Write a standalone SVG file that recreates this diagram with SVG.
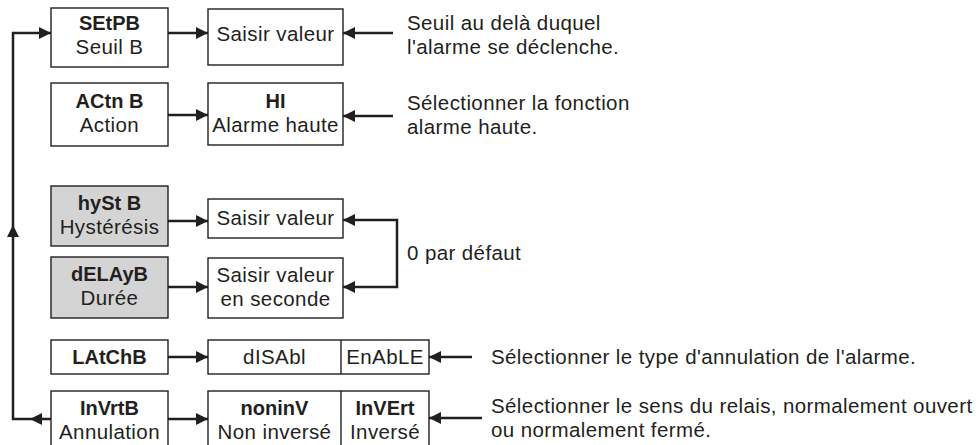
<svg xmlns="http://www.w3.org/2000/svg" width="980" height="445" viewBox="0 0 980 445">
<defs>
<style>
.box{fill:#fff;stroke:#231f20;stroke-width:1.4}
.gray{fill:#d4d4d4}
.t{font-family:"Liberation Sans",Arial,Helvetica,sans-serif;font-size:20.5px;fill:#231f20;letter-spacing:0.4px}
.b{font-weight:bold;font-size:20px;letter-spacing:0}
.c{text-anchor:middle}
.ln{fill:none;stroke:#231f20;stroke-width:2.5}
.hd{fill:#231f20}
</style>
<marker id="ah" viewBox="0 0 12 12" refX="12" refY="6" markerWidth="12" markerHeight="12" markerUnits="userSpaceOnUse" orient="auto-start-reverse"><path d="M0,0L12,6L0,12z" fill="#231f20"/></marker>
</defs>
<rect width="980" height="445" fill="#fff"/>

<g id="setpb"><rect class="box" x="51" y="8" width="117" height="59"/><text class="t b c" x="109.5" y="30">SEtPB</text><text class="t c" x="109.5" y="54">Seuil B</text></g>
<g id="setpb-val"><rect class="box" x="208" y="9" width="135" height="56"/><text class="t c" x="275.5" y="41">Saisir valeur</text></g>

<g id="actn"><rect class="box" x="51" y="83" width="117" height="63"/><text class="t b c" x="109.5" y="108">ACtn B</text><text class="t c" x="109.5" y="132">Action</text></g>
<g id="actn-val"><rect class="box" x="208" y="83" width="135" height="62"/><text class="t b c" x="275.5" y="108">HI</text><text class="t c" x="275.5" y="132">Alarme haute</text></g>

<g id="hyst"><rect class="box gray" x="51" y="186" width="117" height="60"/><text class="t b c" x="109.5" y="210">hySt B</text><text class="t c" x="109.5" y="234">Hystérésis</text></g>
<g id="hyst-val"><rect class="box" x="208" y="199" width="135" height="39"/><text class="t c" x="275.5" y="225">Saisir valeur</text></g>

<g id="delay"><rect class="box gray" x="51" y="257" width="117" height="61"/><text class="t b c" x="109.5" y="281">dELAyB</text><text class="t c" x="109.5" y="305">Durée</text></g>
<g id="delay-val"><rect class="box" x="208" y="258" width="135" height="60"/><text class="t c" x="275.5" y="282">Saisir valeur</text><text class="t c" x="275.5" y="306">en seconde</text></g>

<g id="latch"><rect class="box" x="51" y="340" width="117" height="34"/><text class="t b c" x="109.5" y="364">LAtChB</text></g>
<g id="latch-val"><rect class="box" x="208" y="340" width="221" height="34"/><line class="box" x1="341" y1="340" x2="341" y2="374"/><text class="t c" x="274.5" y="364">dISAbl</text><text class="t c" x="385" y="364">EnAbLE</text></g>

<g id="invrt"><rect class="box" x="51" y="391" width="117" height="60"/><text class="t b c" x="109.5" y="415">InVrtB</text><text class="t c" x="109.5" y="439">Annulation</text></g>
<g id="invrt-val"><rect class="box" x="208" y="391" width="221" height="60"/><line class="box" x1="341" y1="391" x2="341" y2="451"/><text class="t b c" x="274.5" y="415">noninV</text><text class="t c" x="274.5" y="439">Non inversé</text><text class="t b c" x="385" y="415">InVErt</text><text class="t c" x="385" y="439">Inversé</text></g>

<g id="notes">
<text class="t" x="407" y="30">Seuil au delà duquel</text>
<text class="t" x="407" y="54">l'alarme se déclenche.</text>
<text class="t" x="407" y="110">Sélectionner la fonction</text>
<text class="t" x="407" y="134">alarme haute.</text>
<text class="t" x="407" y="260">0 par défaut</text>
<text class="t" x="491" y="364">Sélectionner le type d'annulation de l'alarme.</text>
<text class="t" x="491" y="413">Sélectionner le sens du relais, normalement ouvert</text>
<text class="t" x="491" y="437">ou normalement fermé.</text>
</g>

<g id="connectors">
<path class="ln" d="M51,419H13V33H51" marker-end="url(#ah)"/>
<path class="hd" d="M30,419L42,413L42,425z"/>
<path class="hd" d="M13,225L7,237L19,237z"/>
<path class="ln" d="M168,33H208" marker-end="url(#ah)"/>
<path class="ln" d="M168,115H208" marker-end="url(#ah)"/>
<path class="ln" d="M168,221H208" marker-end="url(#ah)"/>
<path class="ln" d="M168,287H208" marker-end="url(#ah)"/>
<path class="ln" d="M168,357H208" marker-end="url(#ah)"/>
<path class="ln" d="M168,419H208" marker-end="url(#ah)"/>
<path class="ln" d="M393,33H343" marker-end="url(#ah)"/>
<path class="ln" d="M393,116H343" marker-end="url(#ah)"/>
<path class="ln" d="M343,220H397V287H343" marker-start="url(#ah)" marker-end="url(#ah)"/>
<path class="ln" d="M472,357H429" marker-end="url(#ah)"/>
<path class="ln" d="M482,418H429" marker-end="url(#ah)"/>
</g>
</svg>
